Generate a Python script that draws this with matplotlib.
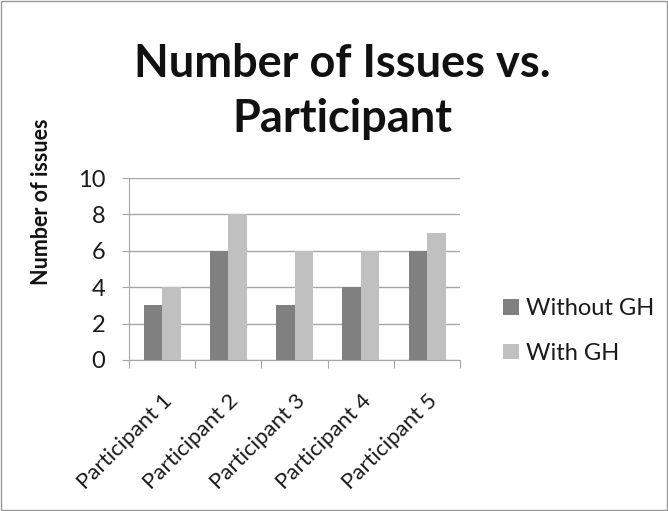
import numpy as np
import matplotlib.pyplot as plt
from matplotlib.patches import Rectangle

participants = ['Participant 1', 'Participant 2', 'Participant 3', 'Participant 4', 'Participant 5']
without_gh = [3, 6, 3, 4, 6]
with_gh = [4, 8, 6, 6, 7]
series_names = ['Without GH', 'With GH']

plt.rcParams['font.family'] = ['Lato', 'DejaVu Sans']

fig = plt.figure(figsize=(6.68, 5.11), dpi=100)
ax = fig.add_axes([0.193, 0.2955, 0.496, 0.356])

x = np.arange(len(participants))
w = 0.28
ax.bar(x - w / 2, without_gh, w, color='#808080', label=series_names[0], zorder=3)
ax.bar(x + w / 2, with_gh, w, color='#c0c0c0', label=series_names[1], zorder=3)

ax.set_xlim(-0.5, len(participants) - 0.5)
ax.set_ylim(0, 10)
ax.set_yticks(range(0, 11, 2))
ax.yaxis.grid(True, color='#a6a6a6', linewidth=1, zorder=0)
for s in ['top', 'right']:
    ax.spines[s].set_visible(False)
ax.spines['left'].set_color('#a6a6a6')
ax.spines['bottom'].set_color('#a6a6a6')

# ticks between groups, labels at group centres
ax.set_xticks(np.arange(-0.5, len(participants), 1), minor=False)
ax.set_xticklabels([])
ax.set_xticks(x, minor=True)
ax.set_xticklabels(participants, minor=True, rotation=45, ha='right',
                   rotation_mode='anchor', fontsize=16, color='#1a1a1a')
ax.tick_params(axis='x', which='major', length=6, color='#a6a6a6')
ax.tick_params(axis='x', which='minor', length=0, pad=22)
ax.tick_params(axis='y', length=5, pad=12, color='#a6a6a6', labelsize=17, labelcolor='#1a1a1a')

ax.set_ylabel('Number of issues', fontsize=15.5, fontweight='bold', color='#111111')
ax.yaxis.set_label_coords(-0.233, 0.871)

fig.text(0.513, 1 - 77 / 511, 'Number of Issues vs.', ha='center', va='baseline',
         fontsize=32.5, fontweight='bold', color='#111111')
fig.text(0.513, 1 - 132 / 511, 'Participant', ha='center', va='baseline',
         fontsize=32.5, fontweight='bold', color='#111111')

ax.legend(loc='center left', bbox_to_anchor=(1.13, 0.16), frameon=False, borderpad=0,
          borderaxespad=0, fontsize=17, handlelength=0.65, handleheight=0.65,
          labelspacing=1.0, handletextpad=0.3, labelcolor='#1a1a1a')

fig.patches.append(Rectangle((0.002, 0.002), 0.996, 0.996, transform=fig.transFigure,
                             fill=False, edgecolor='#999999', linewidth=1))

fig.savefig('out.png', dpi=100)
